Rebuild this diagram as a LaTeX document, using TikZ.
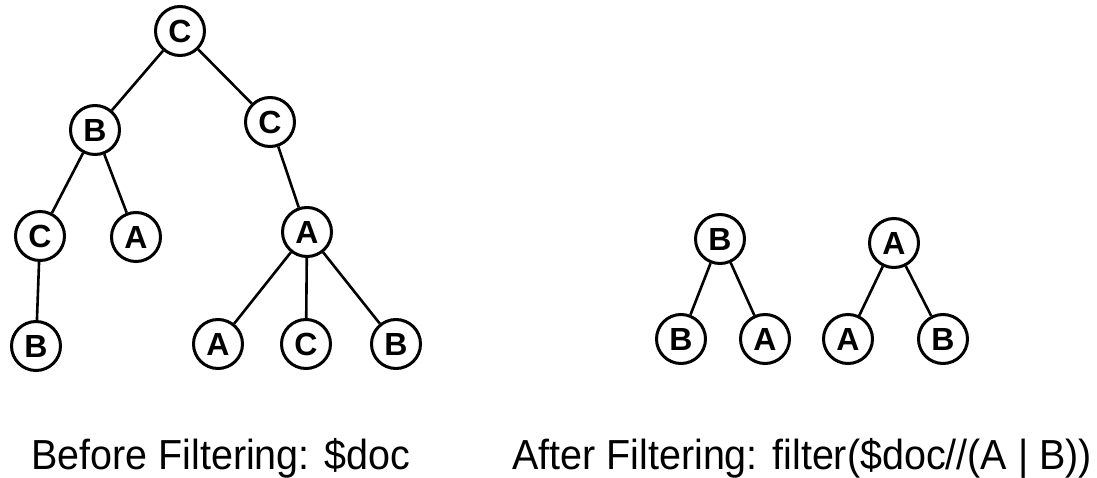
\documentclass[tikz,border=0pt]{standalone}
\usepackage{fontspec}
\usepackage{graphicx}
\setmainfont{Liberation Sans}
\tikzset{
  tn/.style={circle, draw=black, line width=3pt, minimum size=49pt, inner sep=0pt,
             font=\fontsize{32}{33}\selectfont\bfseries},
  edge/.style={line width=2.6pt},
  caption/.style={anchor=base west, inner sep=0pt, font=\fontsize{42}{44}\selectfont}
}
\begin{document}
\begin{tikzpicture}[x=1pt, y=-1pt]
  \useasboundingbox (0,0) rectangle (1097,478);
  % source document tree
  \node[tn] (r)   at (180,31)  {C};
  \node[tn] (b1)  at (95,130)  {B};
  \node[tn] (c1)  at (270,122) {C};
  \node[tn] (c2)  at (40,236)  {C};
  \node[tn] (a1)  at (136,237) {A};
  \node[tn] (a2)  at (307,232) {A};
  \node[tn] (b2)  at (36,346)  {B};
  \node[tn] (a3)  at (218,344) {A};
  \node[tn] (c3)  at (306,344) {C};
  \node[tn] (b3)  at (396,344) {B};
  \draw[edge] (r) -- (b1);
  \draw[edge] (r) -- (c1);
  \draw[edge] (b1) -- (c2);
  \draw[edge] (b1) -- (a1);
  \draw[edge] (c2) -- (b2);
  \draw[edge] (c1) -- (a2);
  \draw[edge] (a2) -- (a3);
  \draw[edge] (a2) -- (c3);
  \draw[edge] (a2) -- (b3);
  % filtered forest
  \node[tn] (fb)  at (720,239) {B};
  \node[tn] (fb1) at (681,339) {B};
  \node[tn] (fa1) at (765,339) {A};
  \node[tn] (fa)  at (894,243) {A};
  \node[tn] (fa2) at (848,339) {A};
  \node[tn] (fb2) at (943,339) {B};
  \draw[edge] (fb) -- (fb1);
  \draw[edge] (fb) -- (fa1);
  \draw[edge] (fa) -- (fa2);
  \draw[edge] (fa) -- (fb2);
  % captions
  \node[caption] (cap1) at (31,469) {\scalebox{0.94}[1]{Before Filtering: \$doc}};
  \node[caption] (cap2) at (512,469) {\scalebox{0.94}[1]{After Filtering: filter(\$doc//(A | B))}};
\end{tikzpicture}
\end{document}
